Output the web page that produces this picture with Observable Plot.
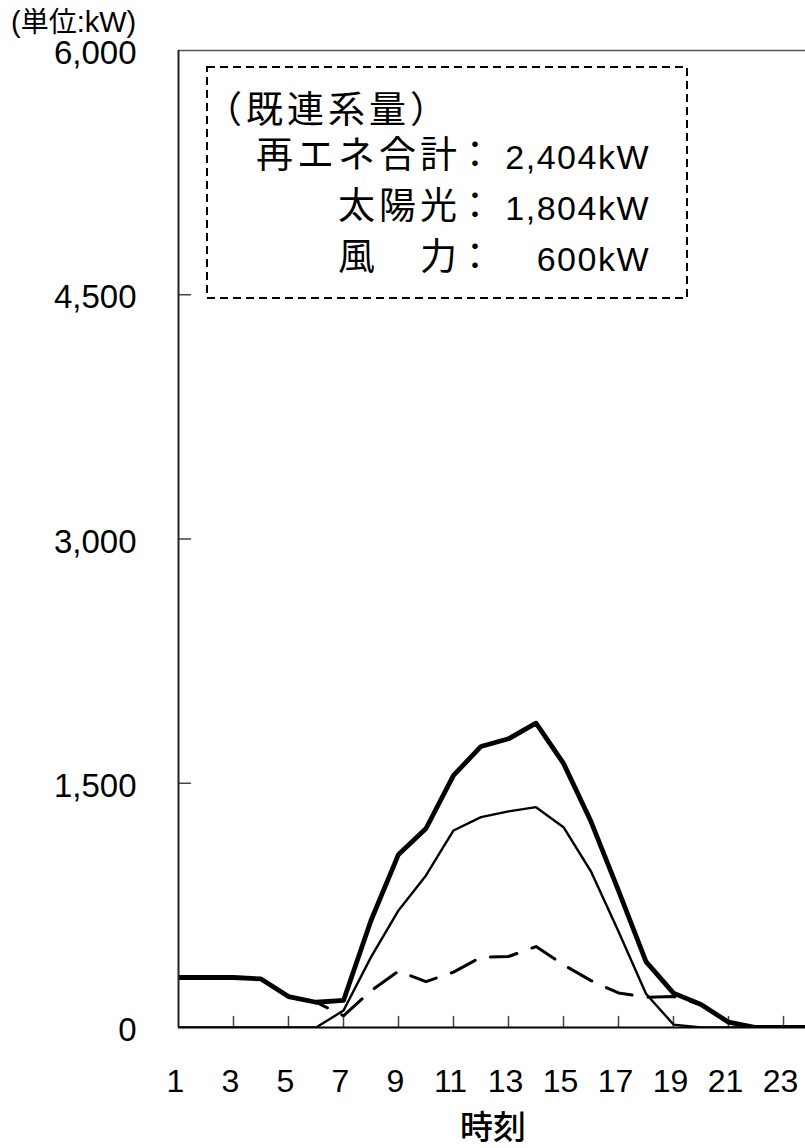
<!DOCTYPE html>
<html lang="ja">
<head>
<meta charset="utf-8">
<script src="https://cdn.jsdelivr.net/npm/d3@7"></script>
<script src="https://cdn.jsdelivr.net/npm/@observablehq/plot@0.6"></script>
<style>
  html, body { margin: 0; padding: 0; background: #fff; overflow: hidden; }
  #wrap { position: relative; width: 805px; height: 1148px; overflow: hidden; }
  #wrap svg text { fill: #000; }
  #overlay { position: absolute; left: 0; top: 0; pointer-events: none; }
</style>
</head>
<body>
<div id="wrap"></div>
<script>
// ---- data ----
const hours = [1,2,3,4,5,6,7,8,9,10,11,12,13,14,15,16,17,18,19,20,21,22,23,24];
const total = [307,307,307,298,190,155,166,657,1063,1222,1548,1726,1773,1869,1622,1265,840,405,211,141,33,0,0,0];
const solar = [0,0,0,0,0,0,104,432,719,934,1210,1292,1327,1353,1230,958,590,207,18,0,0,0,0,0];
const wind  = [307,307,307,298,190,155,72,225,346,282,340,432,436,497,385,288,212,186,190,141,33,0,0,0];
const yTicks = [0,1500,3000,4500,6000];
const yInnerTicks = [1500,3000,4500];
const xTicks = [1,3,5,7,9,11,13,15,17,19,21,23];
const xInnerTicks = [3,5,7,9,11,13,15,17,19,21,23];
const unitParts = [["(", "lat"], ["単位", "cjk"], [":kW)", "lat"]];
const xLabel = "時刻";
const boxTitle = "（既連系量）";
const boxRows = [
  {name: "再エネ合計", value: "2,404kW"},
  {name: "太陽光", value: "1,804kW"},
  {name: "風　力", value: "600kW"}
];

const CJK = "'Noto Sans CJK JP', sans-serif";
const LAT = "'Liberation Sans', Arial, sans-serif";
const tickShape = {draw(context, l) { context.moveTo(0, 0); context.lineTo(0, -l); }};

const chart = Plot.plot({
  width: 805,
  height: 1148,
  marginLeft: 178,
  marginRight: 0,
  marginTop: 50,
  marginBottom: 121,
  x: {domain: [1, 24], range: [178, 810.5]},
  y: {domain: [0, 6000]},
  marks: [
    Plot.axisY({ticks: yTicks, tickFormat: d3.format(","), tickSize: 0, tickPadding: 42, fontSize: 33, fontFamily: LAT, dy: 3, label: null}),
    Plot.axisX({ticks: xTicks, tickFormat: d => String(d), tickSize: 0, tickPadding: 42, fontSize: 32, fontFamily: LAT, dx: -3, label: null}),
    Plot.ruleY([6000], {stroke: "#555", strokeWidth: 1.5}),
    Plot.vector(yInnerTicks, {y: d => d, frameAnchor: "left", length: 12, rotate: 90, anchor: "start", shape: tickShape, stroke: "#444", strokeWidth: 1.5}),
    Plot.vector(xInnerTicks, {x: d => d, frameAnchor: "bottom", length: 11, anchor: "start", shape: tickShape, stroke: "#444", strokeWidth: 1.5}),
    Plot.line(wind, {x: hours, y: wind, stroke: "#000", strokeWidth: 3, strokeDasharray: "27,16", clip: true}),
    Plot.line(solar, {x: hours, y: solar, stroke: "#000", strokeWidth: 2.4, clip: true}),
    Plot.line(total, {x: hours, y: total, stroke: "#000", strokeWidth: 4.8, strokeLinejoin: "round", clip: true}),
    Plot.ruleX([1], {stroke: "#222", strokeWidth: 2}),
    Plot.ruleY([0], {stroke: "#000", strokeWidth: 2})
  ]
});

const wrap = document.getElementById("wrap");
wrap.appendChild(chart);

// overlay annotations (unit, axis title, capacity box)
const ov = d3.select(wrap).append("svg")
  .attr("id", "overlay").attr("width", 805).attr("height", 1148);

const unit = ov.append("text").attr("x", 11).attr("y", 32);
unitParts.forEach(([t, f]) => {
  unit.append("tspan").attr("font-family", f === "cjk" ? CJK : LAT)
    .attr("font-size", f === "cjk" ? 28 : 29).text(t);
});
ov.append("text").attr("x", 493).attr("y", 1139).attr("text-anchor", "middle")
  .attr("font-family", CJK).attr("font-size", 33).attr("font-weight", 500).text(xLabel);

ov.append("rect").attr("x", 207).attr("y", 67).attr("width", 480).attr("height", 231)
  .attr("fill", "none").attr("stroke", "#000").attr("stroke-width", 2).attr("stroke-dasharray", "8,5");

ov.append("text").attr("x", 205).attr("y", 123).attr("font-size", 37).attr("font-family", CJK)
  .attr("letter-spacing", 4).text(boxTitle);

const baselines = [168, 219, 270];
boxRows.forEach((r, i) => {
  ov.append("text").attr("x", 461).attr("y", baselines[i]).attr("font-size", 37).attr("font-family", CJK)
    .attr("letter-spacing", 4).attr("text-anchor", "end").text(r.name);
  ov.append("text").attr("x", 475).attr("y", baselines[i]).attr("font-size", 37).attr("font-family", CJK)
    .attr("text-anchor", "middle").text("：");
  ov.append("text").attr("x", 650).attr("y", baselines[i] + 1).attr("font-size", 34).attr("font-family", LAT)
    .attr("letter-spacing", 1.5).attr("text-anchor", "end").text(r.value);
});
</script>
</body>
</html>
